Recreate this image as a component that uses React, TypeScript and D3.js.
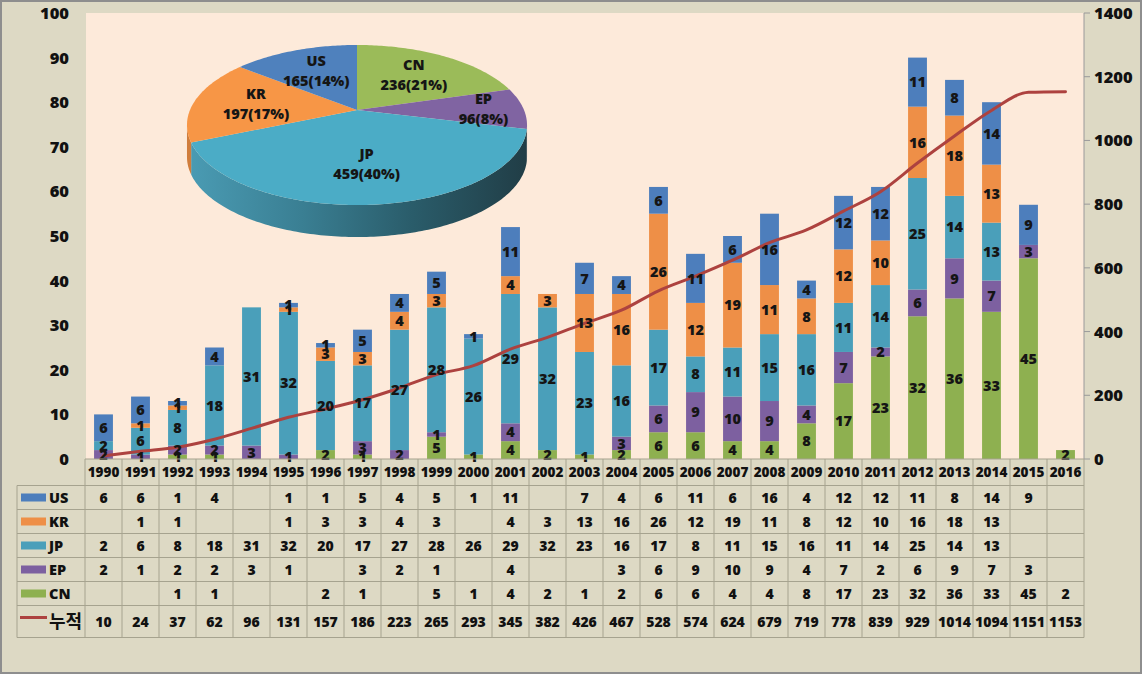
import React from 'react';
import * as d3 from 'd3';

// ---------------- data ----------------
const years = ['1990','1991','1992','1993','1994','1995','1996','1997','1998','1999','2000','2001','2002','2003','2004','2005','2006','2007','2008','2009','2010','2011','2012','2013','2014','2015','2016'];
const US: (number | null)[] = [6,6,1,4,null,1,1,5,4,5,1,11,null,7,4,6,11,6,16,4,12,12,11,8,14,9,null];
const KR: (number | null)[] = [null,1,1,null,null,1,3,3,4,3,null,4,3,13,16,26,12,19,11,8,12,10,16,18,13,null,null];
const JP: (number | null)[] = [2,6,8,18,31,32,20,17,27,28,26,29,32,23,16,17,8,11,15,16,11,14,25,14,13,null,null];
const EP: (number | null)[] = [2,1,2,2,3,1,null,3,2,1,null,4,null,null,3,6,9,10,9,4,7,2,6,9,7,3,null];
const CN: (number | null)[] = [null,null,1,1,null,null,2,1,null,5,1,4,2,1,2,6,6,4,4,8,17,23,32,36,33,45,2];
const cumulative = [10,24,37,62,96,131,157,186,223,265,293,345,382,426,467,528,574,624,679,719,778,839,929,1014,1094,1151,1153];
const cumulativeLabel = '누적';

const leftTicks = [0,10,20,30,40,50,60,70,80,90,100];
const rightTicks = [0,200,400,600,800,1000,1200,1400];

const pieNames = ['CN','EP','JP','KR','US'];
const pieValues = [236,96,459,197,165];
const piePct = [21,8,40,17,14];

// ---------------- styles ----------------
const seriesData: Record<string, (number | null)[]> = { US, KR, JP, EP, CN };
const stackKeys = ['CN','EP','JP','KR','US'];
const tableKeys = ['US','KR','JP','EP','CN'];
const barColor: Record<string, string> = { US: '#4D7EBC', KR: '#EE8F47', JP: '#4A9FBA', EP: '#7D60A0', CN: '#8EB050' };
const pieTop: Record<string, string> = { US: '#4F81BD', KR: '#F79646', JP: '#4BACC6', EP: '#8064A2', CN: '#9BBB59' };
const lineColor = '#AD423F';
const FONT = "'Open Sans', 'Noto Sans CJK KR', sans-serif";
const KFONT = "'Noto Sans CJK KR', sans-serif";
const gridColor = '#A6A38F';
const W_BOLD = 800;

export default function App() {
  const W = 1142, H = 674;
  const plotL = 85, plotR = 1084, plotT = 13, plotB = 459;

  const xc = d3.scaleBand<string>().domain(years).range([plotL, plotR]);
  const barW = xc.bandwidth() * 0.51;
  const yL = d3.scaleLinear().domain([0, 100]).range([plotB, plotT]);
  const yR = d3.scaleLinear().domain([0, 1400]).range([plotB, plotT]);

  const rows = years.map((y, i) => {
    const o: any = { year: y };
    stackKeys.forEach(k => { o[k] = seriesData[k][i] ?? 0; });
    return o;
  });
  const stacked = d3.stack<any>().keys(stackKeys)(rows);

  const line = d3.line<number>()
    .x((_, i) => (xc(years[i]) as number) + xc.bandwidth() / 2)
    .y(d => yR(d))
    .curve(d3.curveMonotoneX);

  // table geometry
  const headerB = 485.5;
  const rowH = 24;
  const lastRowH = 32;
  const rowTop = (r: number) => headerB + r * rowH;
  const tableBottom = headerB + 5 * rowH + lastRowH;
  const tableL = 17;

  // pie geometry (perspective projected 3D pie)
  const P = 0.1875, K = 77.2, RX = 167, CX = 357, CY = 110, DEPTH = 32;
  const proj = (t: number, r = 1): [number, number] => {
    const u = r * Math.sin(t), v = -r * Math.cos(t);
    const d = 1 - P * v;
    return [CX + (RX * u) / d, CY + (K * v) / d];
  };
  const arcPts = (a0: number, a1: number) => {
    const n = Math.max(2, Math.ceil((a1 - a0) / (Math.PI / 180)));
    const pts: [number, number][] = [];
    for (let i = 0; i <= n; i++) pts.push(proj(a0 + ((a1 - a0) * i) / n));
    return pts;
  };
  const pieArcs = d3.pie<number>().sort(null).value(d => d)(pieValues);
  const tL = Math.acos(-P);
  const tR = 2 * Math.PI - tL;

  const sideGrad: Record<string, string[]> = {
    JP: ['#4A9BB3', '#3A7F93', '#2A5C6A', '#213E47'],
    KR: ['#D07D3C', '#C0703A', '#A86030', '#8E5028'],
    EP: ['#6A5290', '#5A4478', '#4A3A62', '#3E3052'],
    CN: ['#7A9A44', '#6A883A', '#5A7432', '#4A6028'],
    US: ['#3F6A9E', '#365C8A', '#2E4E76', '#264062'],
  };

  return (
    <svg width={W} height={H} style={{ position: 'absolute', left: 0, top: 0 }} fontFamily={FONT}>
      <defs>
        {pieNames.map(n => (
          <linearGradient key={n} id={'side-' + n} gradientUnits="userSpaceOnUse" x1={CX - RX} x2={CX + RX} y1={0} y2={0}>
            {sideGrad[n].map((c, i) => (
              <stop key={i} offset={i / (sideGrad[n].length - 1)} stopColor={c} />
            ))}
          </linearGradient>
        ))}
      </defs>
      {/* frame */}
      <rect x={1} y={1} width={W - 2} height={H - 2} fill="#DDD9C4" stroke="#8E8E8E" strokeWidth={2} />
      {/* plot area */}
      <rect x={plotL + 1} y={plotT} width={plotR - plotL - 1} height={plotB - plotT} fill="#FDEADA" />
      {/* right axis */}
      <line x1={plotR} x2={plotR} y1={plotT} y2={plotB} stroke="#9A9A9A" strokeWidth={1} />
      {rightTicks.map(t => (
        <g key={t}>
          <line x1={plotR} x2={plotR + 6} y1={yR(t)} y2={yR(t)} stroke="#9A9A9A" />
          <text x={plotR + 10} y={yR(t)} dy="0.36em" fontSize={16.5} fontWeight={W_BOLD} fill="#111">{t}</text>
        </g>
      ))}
      {leftTicks.map(t => (
        <text key={t} x={69} y={yL(t)} dy="0.36em" textAnchor="end" fontSize={16.5} fontWeight={W_BOLD} fill="#111">{t}</text>
      ))}

      {/* bars */}
      {stacked.map(s => (
        <g key={s.key}>
          {s.map((d, i) => (
            d[1] - d[0] > 0 ? (
              <rect key={i} x={(xc(years[i]) as number) + (xc.bandwidth() - barW) / 2} y={yL(d[1])}
                width={barW} height={yL(d[0]) - yL(d[1])} fill={barColor[s.key]} />
            ) : null
          ))}
        </g>
      ))}

      {/* cumulative line */}
      <path d={line(cumulative) || ''} fill="none" stroke={lineColor} strokeWidth={3} strokeLinejoin="round" strokeLinecap="round" />

      {/* bar labels */}
      {stacked.map(s => (
        <g key={'l' + s.key}>
          {s.map((d, i) => (
            d[1] - d[0] > 0 ? (
              <text key={i} x={(xc(years[i]) as number) + xc.bandwidth() / 2} y={yL((d[0] + d[1]) / 2)} dy="0.36em"
                textAnchor="middle" fontSize={14.5} fontWeight={W_BOLD} fill="#151515">{d[1] - d[0]}</text>
            ) : null
          ))}
        </g>
      ))}

      {/* table grid */}
      <g stroke={gridColor} strokeWidth={1} fill="none">
        <line x1={plotL} x2={plotR} y1={plotB} y2={plotB} />
        {[0, 1, 2, 3, 4, 5].map(r => (
          <line key={r} x1={tableL} x2={plotR} y1={rowTop(r)} y2={rowTop(r)} />
        ))}
        <line x1={tableL} x2={plotR} y1={tableBottom} y2={tableBottom} />
        <line x1={tableL} x2={tableL} y1={headerB} y2={tableBottom} />
        {years.map(y => (
          <line key={y} x1={xc(y) as number} x2={xc(y) as number} y1={plotB} y2={tableBottom} />
        ))}
        <line x1={plotR} x2={plotR} y1={plotB} y2={tableBottom} />
      </g>
      {/* year header */}
      {years.map(y => (
        <text key={y} x={(xc(y) as number) + xc.bandwidth() / 2} y={472.5} dy="0.36em" textAnchor="middle"
          fontSize={13.5} fontWeight={W_BOLD} fill="#111">{y}</text>
      ))}
      {/* table rows */}
      {tableKeys.map((k, r) => {
        const cy = rowTop(r) + rowH / 2;
        return (
          <g key={k}>
            <rect x={21} y={cy - 4} width={25} height={8} fill={barColor[k]} />
            <text x={49} y={cy} dy="0.36em" fontSize={14.5} fontWeight={W_BOLD} fill="#111">{k}</text>
            {seriesData[k].map((v, i) => v == null ? null : (
              <text key={i} x={(xc(years[i]) as number) + xc.bandwidth() / 2} y={cy} dy="0.36em" textAnchor="middle"
                fontSize={14} fontWeight={W_BOLD} fill="#111">{v}</text>
            ))}
          </g>
        );
      })}
      {(() => {
        const cy = rowTop(5) + lastRowH / 2;
        return (
          <g>
            <line x1={20} x2={47} y1={cy - 4} y2={cy - 4} stroke={lineColor} strokeWidth={3} />
            <text x={49} y={cy} dy="0.36em" fontSize={18} fontWeight="bold" fill="#111" fontFamily={KFONT}>{cumulativeLabel}</text>
            {cumulative.map((v, i) => (
              <text key={i} x={(xc(years[i]) as number) + xc.bandwidth() / 2} y={cy} dy="0.36em" textAnchor="middle"
                fontSize={14} fontWeight={W_BOLD} fill="#111">{v}</text>
            ))}
          </g>
        );
      })()}

      {/* 3D pie */}
      <g>
        {pieArcs.map((a, i) => {
          const s0 = Math.max(a.startAngle, tL), s1 = Math.min(a.endAngle, tR);
          if (s1 <= s0) return null;
          const top = arcPts(s0, s1);
          const bottom = top.map(([px, py]) => [px, py + DEPTH] as [number, number]).reverse();
          const d = 'M' + top.concat(bottom).map(p => p[0].toFixed(2) + ',' + p[1].toFixed(2)).join('L') + 'Z';
          return <path key={'s' + i} d={d} fill={`url(#side-${pieNames[i]})`} />;
        })}
        {pieArcs.map((a, i) => {
          const pts = arcPts(a.startAngle, a.endAngle);
          const d = `M${CX},${CY}L` + pts.map(p => p[0].toFixed(2) + ',' + p[1].toFixed(2)).join('L') + 'Z';
          return <path key={'t' + i} d={d} fill={pieTop[pieNames[i]]} />;
        })}
        {pieArcs.map((a, i) => {
          const mid = (a.startAngle + a.endAngle) / 2;
          const r = a.endAngle - a.startAngle < 0.7 ? 0.76 : 0.62;
          const [lx, ly] = proj(mid, r);
          return (
            <g key={'lab' + i} fontSize={14.5} fontWeight={W_BOLD} fill="#151515" textAnchor="middle">
              <text x={lx} y={ly - 10} dy="0.36em">{pieNames[i]}</text>
              <text x={lx} y={ly + 10} dy="0.36em">{`${pieValues[i]}(${piePct[i]}%)`}</text>
            </g>
          );
        })}
      </g>
    </svg>
  );
}
